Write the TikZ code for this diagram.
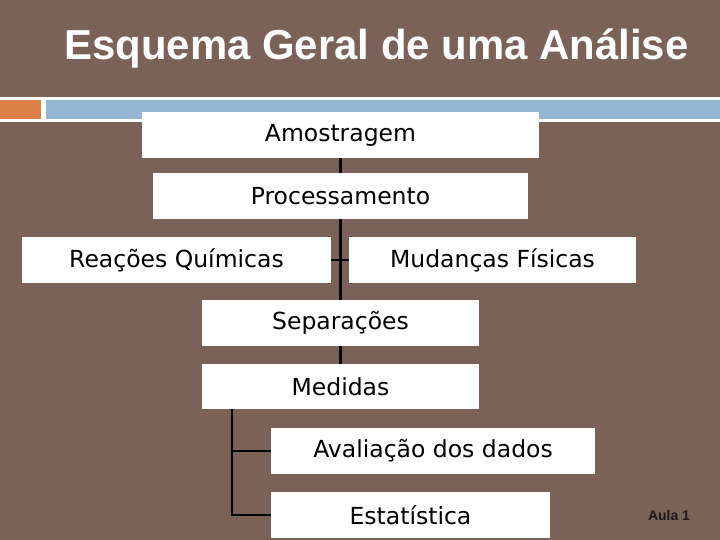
\documentclass[tikz,border=0pt]{standalone}
\usepackage{fontspec}
\setmainfont{DejaVu Sans}
\newfontfamily\titlefont{Liberation Sans}
\usetikzlibrary{calc}
\definecolor{bgbrown}{RGB}{122,98,88}
\definecolor{barblue}{RGB}{148,182,210}
\definecolor{barorange}{RGB}{221,128,71}
\tikzset{
  stepbox/.style={fill=white, inner sep=0pt, minimum height=46pt, font=\fontsize{23.5}{27}\selectfont, text=black},
  link/.style={draw=black, line width=2.6pt},
  thinlink/.style={draw=black, line width=2pt}
}
\begin{document}
\begin{tikzpicture}[x=1pt,y=-1pt]
\useasboundingbox (0,0) rectangle (720,540);
\fill[bgbrown] (0,0) rectangle (720,540);
\fill[white] (0,97) rectangle (720,122);
\fill[barorange] (0,100) rectangle (41,119);
\fill[barblue] (46,100) rectangle (720,119);
\node[text=white, font=\titlefont\bfseries\fontsize{41.9}{48}\selectfont, anchor=base] (title) at (376.5,60) {Esquema Geral de uma Análise};
\node[stepbox, minimum width=397pt] (amo) at (340.5,135) {Amostragem};
\node[stepbox, minimum width=375pt] (proc) at (340.5,196) {Processamento};
\node[stepbox, minimum width=309pt] (rea) at (176.5,260) {Reações Químicas};
\node[stepbox, minimum width=287pt] (mud) at (492.5,260) {Mudanças Físicas};
\node[stepbox, minimum width=277pt] (sep) at (340.5,323) {Separações};
\node[stepbox, minimum width=277pt, minimum height=45pt] (med) at (340.5,386.5) {Medidas};
\node[stepbox, minimum width=324pt] (ava) at (433,451) {Avaliação dos dados};
\node[stepbox, minimum width=279pt] (est) at (410.5,515) {Estatística};
\node[text=black!90, font=\titlefont\bfseries\fontsize{14}{16}\selectfont, anchor=base] (aula) at (669,520) {Aula 1};
\draw[link] (amo.south) -- (proc.north);
\draw[link] (proc.south) -- (sep.north);
\draw[link] (sep.south) -- (med.north);
\draw[link] (rea.east) -- (mud.west);
\coordinate (br) at ($(med.south west)+(30,0)$);
\draw[thinlink] (br) |- (ava.west);
\draw[thinlink] (br) |- (est.west);
\end{tikzpicture}
\end{document}
